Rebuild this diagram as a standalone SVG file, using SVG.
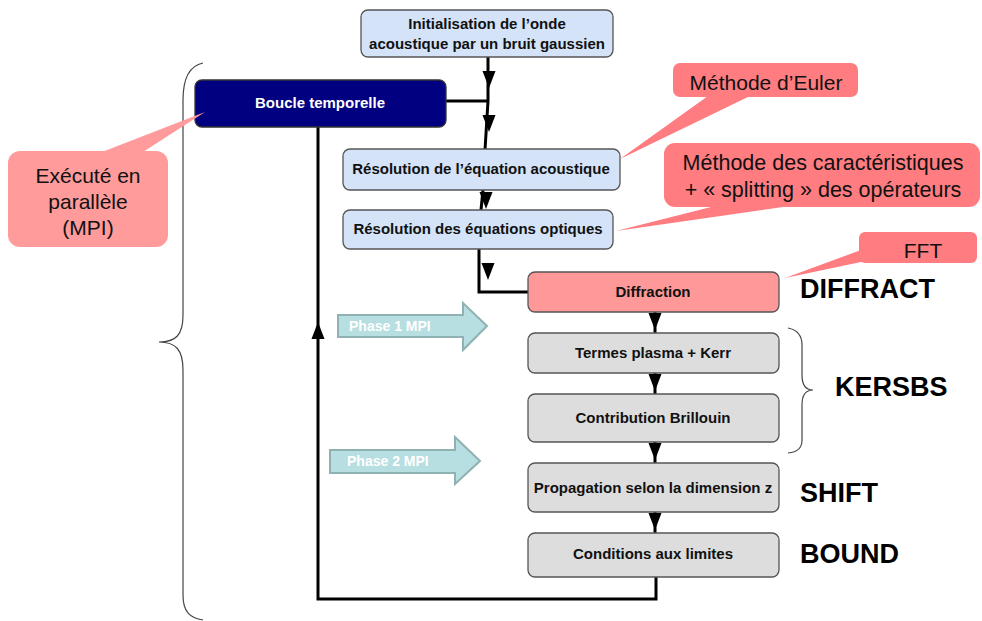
<svg xmlns="http://www.w3.org/2000/svg" width="982" height="621" viewBox="0 0 982 621">
<style>
.box{stroke:#555;stroke-width:1.3}
.blue{fill:#D4E3F8}
.gray{fill:#DDDDDD}
.pink{fill:#FF9999}
.navy{fill:#000080;stroke:#333}
.bt{font-family:"Liberation Sans Narrow","Liberation Sans",sans-serif;font-weight:bold;font-size:15px;text-anchor:middle;fill:#111}
.wt{fill:#fff}
.ct{font-family:"Liberation Sans",Arial,sans-serif;font-size:21px;text-anchor:middle;fill:#111}
.lab{font-family:"Liberation Sans",Arial,sans-serif;font-weight:bold;font-size:27px;fill:#000}
.ph{font-family:"Liberation Sans Narrow","Liberation Sans",sans-serif;font-weight:bold;font-size:14px;fill:#fff}
.ln{fill:none;stroke:#000;stroke-width:3}
.br{fill:none;stroke:#444;stroke-width:1.2}
.c1{fill:#FF7C80}
.c2{fill:#FF9B9B}
.arr{fill:#B7DEE0;stroke:#8FB1B2;stroke-width:2}
</style>
<defs>
<path id="ad" d="M-6.5,-17 L6.5,-17 L0,0 Z" fill="#000"/>
<path id="au" d="M-6.5,17 L6.5,17 L0,0 Z" fill="#000"/>
</defs>

<g id="braces">
<path class="br" d="M203,63 C188,66 183,80 183,100 L183,315 C183,335 176,342 159,342 C176,342 183,350 183,370 L183,595 C183,612 190,618 203,620"/>
<path class="br" d="M788,328 C798,330 802,336 802,345 L802,375 C802,385 806,390 813,390 C806,390 802,395 802,405 L802,440 C802,448 798,452 788,453"/>
</g>

<g id="connectors">
<polyline class="ln" points="488,57 488,101 485,150"/>
<line class="ln" x1="446" y1="101" x2="488" y2="101"/>
<line class="ln" x1="483" y1="190" x2="481" y2="210"/>
<polyline class="ln" points="479,249 479,292 529,292"/>
<line class="ln" x1="655" y1="312" x2="655" y2="333"/>
<line class="ln" x1="655" y1="373" x2="655" y2="394"/>
<line class="ln" x1="655" y1="442" x2="655" y2="463"/>
<line class="ln" x1="655" y1="512" x2="655" y2="533"/>
<polyline class="ln" points="656,577 656,599 318,599 318,127"/>
<use href="#ad" x="489" y="88"/>
<use href="#ad" x="489" y="132"/>
<use href="#ad" x="486" y="209"/>
<use href="#ad" x="488" y="280"/>
<use href="#ad" x="655" y="330"/>
<use href="#ad" x="655" y="391"/>
<use href="#ad" x="655" y="460"/>
<use href="#ad" x="655" y="530"/>
<use href="#au" x="318" y="322"/>
</g>

<g id="init">
<rect class="box blue" x="361" y="10" width="252" height="47" rx="7"/>
<text class="bt" x="487" y="29">Initialisation de l’onde</text>
<text class="bt" x="487" y="49">acoustique par un bruit gaussien</text>
</g>

<g id="boucle">
<rect class="box navy" x="195" y="80" width="251" height="47" rx="7"/>
<text class="bt wt" x="320" y="108">Boucle temporelle</text>
</g>

<g id="acoustique">
<rect class="box blue" x="343" y="149" width="277" height="41" rx="7"/>
<text class="bt" x="481" y="174">Résolution de l’équation acoustique</text>
</g>

<g id="optiques">
<rect class="box blue" x="343" y="210" width="270" height="39" rx="7"/>
<text class="bt" x="478" y="234">Résolution des équations optiques</text>
</g>

<g id="diffraction">
<rect class="box pink" x="528" y="272" width="251" height="40" rx="7"/>
<text class="bt" x="653" y="297">Diffraction</text>
</g>

<g id="termes">
<rect class="box gray" x="528" y="333" width="251" height="40" rx="7"/>
<text class="bt" x="653" y="358">Termes plasma + Kerr</text>
</g>

<g id="brillouin">
<rect class="box gray" x="528" y="394" width="251" height="48" rx="7"/>
<text class="bt" x="653" y="423">Contribution  Brillouin</text>
</g>

<g id="propagation">
<rect class="box gray" x="528" y="463" width="251" height="49" rx="7"/>
<text class="bt" x="653" y="493">Propagation selon  la dimension z</text>
</g>

<g id="conditions">
<rect class="box gray" x="528" y="533" width="251" height="44" rx="7"/>
<text class="bt" x="653" y="559">Conditions  aux limites</text>
</g>

<g id="labels">
<text class="lab" x="800" y="298">DIFFRACT</text>
<text class="lab" x="835" y="396">KERSBS</text>
<text class="lab" x="800" y="502">SHIFT</text>
<text class="lab" x="800" y="563">BOUND</text>
</g>

<g id="phase1">
<polygon class="arr" points="338,315 463,315 463,303 487,326 463,350 463,337 338,337"/>
<text class="ph" x="349" y="331">Phase 1 MPI</text>
</g>
<g id="phase2">
<polygon class="arr" points="330,450 455,450 455,437 480,461 455,484 455,473 330,473"/>
<text class="ph" x="347" y="466">Phase 2 MPI</text>
</g>

<g id="callout-mpi">
<polygon class="c2" points="102,152 143,152 205,112"/>
<rect class="c2" x="8" y="151" width="160" height="96" rx="12"/>
<text class="ct" x="88" y="183">Exécuté en</text>
<text class="ct" x="88" y="209">parallèle</text>
<text class="ct" x="88" y="235">(MPI)</text>
</g>

<g id="callout-euler">
<polygon class="c1" points="708,96 750,96 620,159"/>
<rect class="c1" x="673" y="63" width="185" height="34" rx="7"/>
<text class="ct" x="766" y="90">Méthode d’Euler</text>
</g>

<g id="callout-carac">
<polygon class="c1" points="715,206 790,206 616,231"/>
<rect class="c1" x="664" y="143" width="316" height="64" rx="11"/>
<text class="ct" x="823" y="170" style="font-size:21.5px">Méthode des caractéristiques</text>
<text class="ct" x="823" y="197" style="font-size:21.5px">+ « splitting » des opérateurs</text>
</g>

<g id="callout-fft">
<polygon class="c1" points="861,250 861,262 785,278"/>
<rect class="c1" x="859" y="232" width="118" height="31" rx="6"/>
<text class="ct" x="923" y="258">FFT</text>
</g>
</svg>
